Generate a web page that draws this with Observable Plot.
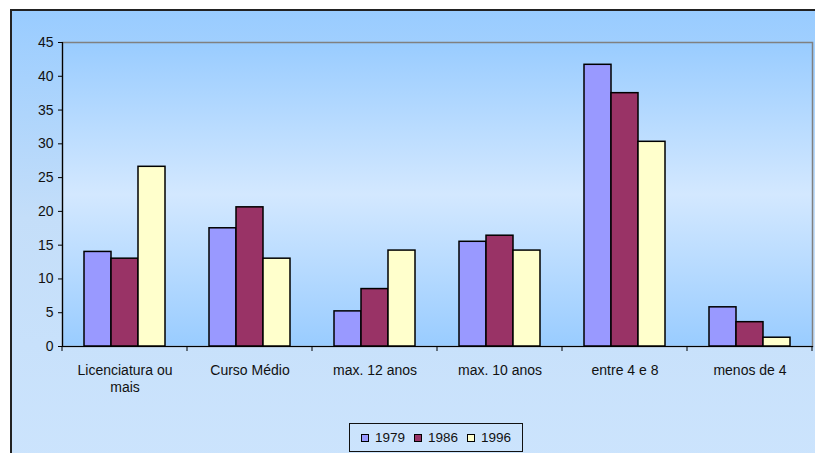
<!DOCTYPE html>
<html>
<head>
<meta charset="utf-8">
<script src="https://cdn.jsdelivr.net/npm/d3@7"></script>
<script src="https://cdn.jsdelivr.net/npm/@observablehq/plot@0.6"></script>
<style>
  body { margin: 0; background: #fff; width: 815px; height: 453px; overflow: hidden; position: relative; font-family: "Liberation Sans", Arial, sans-serif; }
  #frame { position: absolute; left: 10px; top: 9px; width: 820px; height: 460px; border: 2px solid #222;
           background: linear-gradient(to bottom, #99ccff 0%, #c4def9 45%, #cce4fd 100%); }
  #chart { position: absolute; left: 0; top: 0; }
  #legend { position: absolute; left: 349px; top: 423px; width: 172px; height: 27px; border: 1px solid #111;
            display: flex; align-items: center; justify-content: center; gap: 9px; font-size: 13.5px; color: #111; }
  #legend .item { display: flex; align-items: center; gap: 6px; }
  #legend .sw { width: 6px; height: 6px; border: 1.5px solid #000; }
</style>
</head>
<body>
<div id="frame"></div>
<div id="chart"></div>
<div id="legend"></div>
<script>
const categories = ["Licenciatura ou mais", "Curso Médio", "max. 12 anos", "max. 10 anos", "entre 4 e 8", "menos de 4"];
const categoryLabels = ["Licenciatura ou\nmais", "Curso Médio", "max. 12 anos", "max. 10 anos", "entre 4 e 8", "menos de 4"];
const years = ["1979", "1986", "1996"];
const v1979 = [14.0, 17.5, 5.2, 15.5, 41.7, 5.8];
const v1986 = [13.0, 20.6, 8.5, 16.4, 37.5, 3.6];
const v1996 = [26.6, 13.0, 14.2, 14.2, 30.3, 1.3];
const yTicks = [0, 5, 10, 15, 20, 25, 30, 35, 40, 45];
const colors = ["#9999ff", "#993366", "#ffffcc"];

const series = [v1979, v1986, v1996];
const data = [];
categories.forEach((c, i) => years.forEach((y, j) => data.push({category: c, year: y, value: series[j][i]})));
const labelOf = new Map(categories.map((c, i) => [c, categoryLabels[i]]));

const W = 815, H = 400;
const plot = Plot.plot({
  width: W,
  height: H,
  marginLeft: 61,
  marginRight: 3,
  marginTop: 42,
  marginBottom: H - 346,
  style: {background: "transparent", fontFamily: "'Liberation Sans', Arial, sans-serif", fontSize: "13px", color: "#111"},
  fx: {domain: categories, padding: 0, label: null},
  x: {domain: years, paddingInner: 0, paddingOuter: 0.735, axis: null},
  y: {domain: [0, 45], label: null},
  color: {domain: years, range: colors},
  marks: [
    Plot.frame({facet: "super", fill: "url(#plotGrad)", stroke: "#808080", strokeWidth: 1.5}),
    Plot.axisY({ticks: yTicks, tickSize: 4, tickPadding: 5, fontSize: 14, letterSpacing: 0.8, label: null, stroke: "#000"}),
    Plot.axisFx({anchor: "bottom", tickSize: 0, tickPadding: 16, fontSize: 14, letterSpacing: 0.3, lineHeight: 1.25, label: null,
                 tickFormat: d => labelOf.get(d)}),
    Plot.barY(data, {fx: "category", x: "year", y: "value", fill: "year", stroke: "#000", strokeWidth: 1.5}),
    Plot.frame({facet: "super", anchor: "bottom", stroke: "#000", strokeWidth: 1.2}),
    Plot.frame({facet: "super", anchor: "left", stroke: "#000", strokeWidth: 1.2})
  ]
});

// gradient definition for the plot area
const svg = d3.select(plot.tagName.toLowerCase() === "svg" ? plot : plot.querySelector("svg"));
const grad = svg.insert("defs", ":first-child").append("linearGradient")
  .attr("id", "plotGrad").attr("x1", 0).attr("y1", 0).attr("x2", 0).attr("y2", 1);
grad.append("stop").attr("offset", "0%").attr("stop-color", "#99ccff");
grad.append("stop").attr("offset", "50%").attr("stop-color", "#d3e8ff");
grad.append("stop").attr("offset", "100%").attr("stop-color", "#99ccff");

// category boundary ticks on the x axis, from the fx scale
const fx = plot.scale("fx"), y = plot.scale("y");
const bw = fx.bandwidth;
const bounds = categories.map(c => fx.apply(c));
bounds.push(fx.apply(categories[categories.length - 1]) + bw);
const y0 = y.apply(0);
svg.append("g").selectAll("line").data(bounds).join("line")
  .attr("x1", d => d).attr("x2", d => d).attr("y1", y0).attr("y2", y0 + 5)
  .attr("stroke", "#000").attr("stroke-width", 1);

document.getElementById("chart").appendChild(plot);

// legend
const legend = d3.select("#legend");
years.forEach((yr, i) => {
  const it = legend.append("div").attr("class", "item");
  it.append("div").attr("class", "sw").style("background", colors[i]);
  it.append("span").text(yr);
});
</script>
</body>
</html>
